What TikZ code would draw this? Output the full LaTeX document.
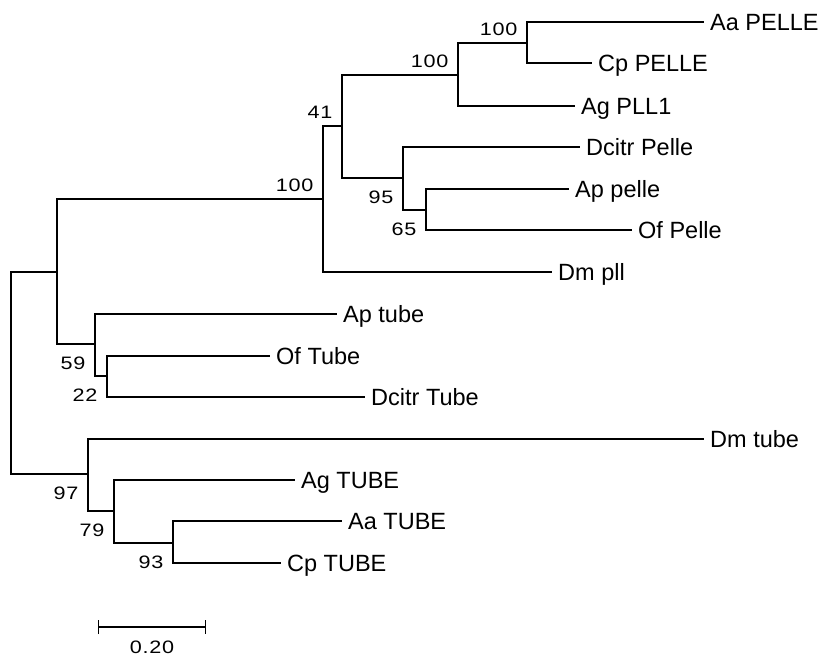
\documentclass[tikz,border=0pt]{standalone}
\usepackage{fontspec}
\setmainfont{Liberation Sans}
\newfontfamily\bootfont[FakeStretch=1.2,LetterSpace=4]{Liberation Sans}
\usetikzlibrary{arrows.meta,positioning}

\begin{document}
\begin{tikzpicture}[
  x=1pt, y=-1pt,
  br/.style={line width=1.2pt},
  leaf/.style={anchor=west, inner xsep=6pt, inner ysep=0pt,
               text height=17pt, text depth=0pt,
               font=\fontsize{23.5}{28}\selectfont},
  boot/.style={inner sep=0pt, text height=13pt, text depth=0pt,
               font=\bootfont\fontsize{18}{22}\selectfont}
]
  \useasboundingbox (0,0) rectangle (824,656);

  % inner nodes of the tree
  \coordinate (root) at (11,373);
  \coordinate (c1)   at (57,272);
  \coordinate (pel)  at (323,199);
  \coordinate (c41)  at (342,126);
  \coordinate (d100) at (458,75);
  \coordinate (e100) at (527,43);
  \coordinate (f95)  at (403,178);
  \coordinate (g65)  at (426,210);
  \coordinate (h59)  at (95,344);
  \coordinate (i22)  at (107,376);
  \coordinate (j97)  at (88,474);
  \coordinate (k79)  at (114,511);
  \coordinate (l93)  at (173,543);

  % leaves
  \node[leaf] (aapelle)    at (704,22)  {Aa PELLE};
  \node[leaf] (cppelle)    at (592,63)  {Cp PELLE};
  \node[leaf] (agpll)      at (575,106) {Ag PLL1};
  \node[leaf] (dcitrpelle) at (580,147) {Dcitr Pelle};
  \node[leaf] (appelle)    at (569,189) {Ap pelle};
  \node[leaf] (ofpelle)    at (632,230) {Of Pelle};
  \node[leaf] (dmpll)      at (552,272) {Dm pll};
  \node[leaf] (aptube)     at (337,314) {Ap tube};
  \node[leaf] (oftube)     at (270,356) {Of Tube};
  \node[leaf] (dcitrtube)  at (365,397) {Dcitr Tube};
  \node[leaf] (dmtube)     at (704,439) {Dm tube};
  \node[leaf] (agtube)     at (295,480) {Ag TUBE};
  \node[leaf] (aatube)     at (342,521) {Aa TUBE};
  \node[leaf] (cptube)     at (281,563) {Cp TUBE};

  % branches
  \draw[br] (root) |- (c1);
  \draw[br] (root) |- (j97);
  \draw[br] (c1) |- (pel);
  \draw[br] (c1) |- (h59);
  \draw[br] (pel) |- (c41);
  \draw[br] (pel) |- (dmpll.west);
  \draw[br] (c41) |- (d100);
  \draw[br] (c41) |- (f95);
  \draw[br] (d100) |- (e100);
  \draw[br] (d100) |- (agpll.west);
  \draw[br] (e100) |- (aapelle.west);
  \draw[br] (e100) |- (cppelle.west);
  \draw[br] (f95) |- (dcitrpelle.west);
  \draw[br] (f95) |- (g65);
  \draw[br] (g65) |- (appelle.west);
  \draw[br] (g65) |- (ofpelle.west);
  \draw[br] (h59) |- (aptube.west);
  \draw[br] (h59) |- (i22);
  \draw[br] (i22) |- (oftube.west);
  \draw[br] (i22) |- (dcitrtube.west);
  \draw[br] (j97) |- (dmtube.west);
  \draw[br] (j97) |- (k79);
  \draw[br] (k79) |- (agtube.west);
  \draw[br] (k79) |- (l93);
  \draw[br] (l93) |- (aatube.west);
  \draw[br] (l93) |- (cptube.west);

  % bootstrap values
  \node[boot, above left=7.5pt and 9.5pt of pel]  (bpel)  {100};
  \node[boot, above left=7.5pt and 9.5pt of c41]  (bc41)  {41};
  \node[boot, above left=7.5pt and 9.5pt of d100] (bd100) {100};
  \node[boot, above left=7.5pt and 9.5pt of e100] (be100) {100};
  \node[boot, below left=12.5pt and 9.5pt of f95] (bf95)  {95};
  \node[boot, below left=12.5pt and 9.5pt of g65] (bg65)  {65};
  \node[boot, below left=12.5pt and 9.5pt of h59] (bh59)  {59};
  \node[boot, below left=12.5pt and 9.5pt of i22] (bi22)  {22};
  \node[boot, below left=12.5pt and 9.5pt of j97] (bj97)  {97};
  \node[boot, below left=12.5pt and 9.5pt of k79] (bk79)  {79};
  \node[boot, below left=12.5pt and 9.5pt of l93] (bl93)  {93};

  % scale bar
  \coordinate (sbl) at (98,627);
  \coordinate (sbr) at (206,627);
  \draw[br, {Bar[width=14pt]}-{Bar[width=14pt]}] (sbl) -- node[boot, below=13pt] (sblab) {0.20} (sbr);
\end{tikzpicture}
\end{document}
